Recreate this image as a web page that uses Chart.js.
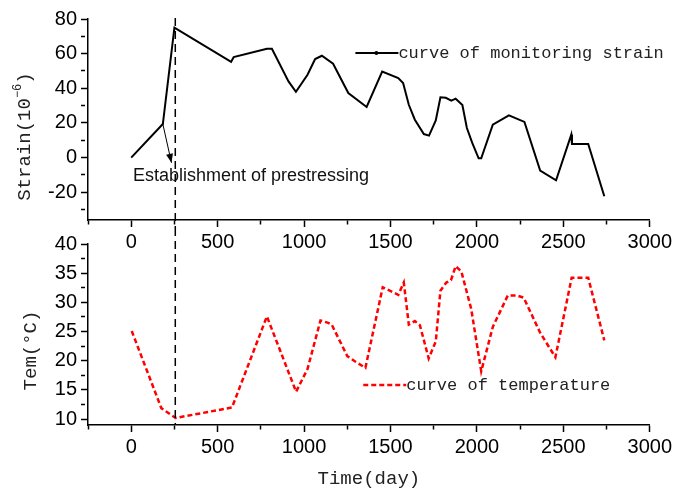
<!DOCTYPE html>
<html>
<head>
<meta charset="utf-8">
<script src="https://cdn.jsdelivr.net/npm/chart.js@4.4.0/dist/chart.umd.min.js"></script>
<style>
  html, body { margin: 0; padding: 0; background: #fff; }
  #wrap { position: relative; width: 675px; height: 495px; overflow: hidden; }
  #wrap canvas { position: absolute; left: 0; }
  #strainCanvas { top: 0; }
  #tempCanvas { top: 228px; }
</style>
</head>
<body>
<div id="wrap">
  <canvas id="tempCanvas" width="675" height="267"></canvas>
  <canvas id="strainCanvas" width="675" height="260"></canvas>
</div>
<script>
// monitoring strain (10^-6) vs time (day)
const strainDays = [0, 183, 250, 578, 593, 785, 814, 910, 953, 1020, 1064, 1103, 1168, 1256, 1362,
  1452, 1545, 1573, 1606, 1641, 1693, 1723, 1762, 1789, 1820, 1852, 1877, 1916, 1942, 1973,
  2010, 2025, 2092, 2185, 2275, 2366, 2458, 2546, 2550, 2644, 2737];
const strainValues = [0, 19.4, 75, 55.3, 58, 62.8, 62.8, 44, 38, 47.8, 56.9, 58.8, 54.2, 37.3, 29.2,
  49.7, 45.9, 43, 30.5, 21.9, 13.6, 12.7, 21.5, 34.8, 34.5, 32.9, 34, 30.4, 17.1, 8.5,
  -0.4, -0.4, 19, 24.4, 20.6, -7.5, -13.1, 13.3, 7.8, 7.9, -22.3];

// temperature (°C) vs time (day)
const tempDays = [3, 174, 257, 583, 785, 954, 1020, 1095, 1140, 1160, 1250, 1300, 1355, 1455,
  1545, 1577, 1606, 1641, 1670, 1721, 1762, 1789, 1823, 1850, 1877, 1910, 1967, 2025, 2092,
  2179, 2230, 2271, 2366, 2454, 2548, 2644, 2737];
const tempValues = [25.1, 11.9, 10.2, 12.0, 27.6, 14.7, 18.6, 26.9, 26.5, 26.2, 20.8, 19.8, 18.8, 32.6,
  31.3, 33.4, 26.2, 26.8, 26.1, 20.4, 23.3, 32.0, 33.4, 33.8, 36.2, 35.3, 28.9, 18.2, 25.8,
  31.2, 31.2, 30.8, 24.8, 20.6, 34.2, 34.2, 23.5];

// tick values (labels only on the major ones)
const dayTicks = [-250, 0, 250, 500, 750, 1000, 1250, 1500, 1750, 2000, 2250, 2500, 2750, 3000];
const strainTicks = [-30, -20, -10, 0, 10, 20, 30, 40, 50, 60, 70, 80];
const tempTicks = [10, 12.5, 15, 17.5, 20, 22.5, 25, 27.5, 30, 32.5, 35, 37.5, 40];

const prestressDay = 255;

const SANS = '"Liberation Sans", Arial, sans-serif';
const MONO = '"Liberation Mono", "Courier New", monospace';

const isMajorDay = v => v >= 0 && v % 500 === 0;

// dashed vertical line marking the establishment of prestressing
const prestressLine = {
  id: 'prestressLine',
  afterDatasetsDraw(chart, args, opts) {
    const {ctx, chartArea: a} = chart;
    const x = chart.scales.x.getPixelForValue(prestressDay);
    ctx.save();
    ctx.strokeStyle = '#000';
    ctx.lineWidth = 1.5;
    ctx.setLineDash([8, 5]);
    ctx.beginPath();
    ctx.moveTo(x, opts.fromCanvasTop ? 0 : a.top - 1);
    ctx.lineTo(x, a.bottom + (opts.extendDown || 0));
    ctx.stroke();
    ctx.restore();
  }
};

// legend drawn inside the plot area
const insideLegend = {
  id: 'insideLegend',
  afterDatasetsDraw(chart, args, opts) {
    const {ctx, chartArea: a} = chart;
    const x0 = a.left + opts.fx * (a.right - a.left);
    const y0 = a.top + opts.fy * (a.bottom - a.top);
    ctx.save();
    ctx.strokeStyle = opts.color;
    ctx.lineWidth = opts.width;
    ctx.setLineDash(opts.dash || []);
    ctx.beginPath();
    ctx.moveTo(x0, y0);
    ctx.lineTo(x0 + 43, y0);
    ctx.stroke();
    ctx.setLineDash([]);
    if (opts.marker) {
      ctx.fillStyle = opts.color;
      ctx.beginPath();
      ctx.arc(x0 + 21, y0, 2, 0, Math.PI * 2);
      ctx.fill();
    }
    ctx.fillStyle = '#222';
    ctx.font = '17px ' + MONO;
    ctx.textBaseline = 'middle';
    ctx.fillText(opts.text, x0 + 43, y0 + 1);
    ctx.restore();
  }
};

// rotated y-axis title, with optional superscript part
const sideTitle = {
  id: 'sideTitle',
  afterDraw(chart, args, opts) {
    const {ctx, chartArea: a} = chart;
    const cy = (a.top + a.bottom) / 2 + opts.shift;
    ctx.save();
    ctx.translate(opts.x, cy);
    ctx.rotate(-Math.PI / 2);
    ctx.fillStyle = '#222';
    ctx.textBaseline = 'middle';
    let total = 0;
    opts.parts.forEach(p => {
      ctx.font = p.size + 'px ' + MONO;
      total += ctx.measureText(p.text).width;
    });
    let x = -total / 2;
    opts.parts.forEach(p => {
      ctx.font = p.size + 'px ' + MONO;
      ctx.fillText(p.text, x, -(p.rise || 0));
      x += ctx.measureText(p.text).width;
    });
    ctx.restore();
  }
};

// arrow + text "Establishment of prestressing"
const prestressNote = {
  id: 'prestressNote',
  afterDatasetsDraw(chart) {
    const {ctx, chartArea: a, scales} = chart;
    const x1 = scales.x.getPixelForValue(183), y1 = scales.y.getPixelForValue(19.4);
    const x2 = scales.x.getPixelForValue(233), y2 = scales.y.getPixelForValue(-3);
    const ang = Math.atan2(y2 - y1, x2 - x1);
    ctx.save();
    ctx.strokeStyle = '#000';
    ctx.fillStyle = '#000';
    ctx.lineWidth = 1;
    ctx.beginPath();
    ctx.moveTo(x1, y1);
    ctx.lineTo(x2, y2);
    ctx.stroke();
    ctx.beginPath();
    ctx.moveTo(x2, y2);
    ctx.lineTo(x2 - 9 * Math.cos(ang) + 3.5 * Math.sin(ang), y2 - 9 * Math.sin(ang) - 3.5 * Math.cos(ang));
    ctx.lineTo(x2 - 9 * Math.cos(ang) - 3.5 * Math.sin(ang), y2 - 9 * Math.sin(ang) + 3.5 * Math.cos(ang));
    ctx.closePath();
    ctx.fill();
    ctx.font = '18px ' + SANS;
    ctx.fillStyle = '#111';
    ctx.textBaseline = 'alphabetic';
    ctx.fillText('Establishment of prestressing', a.left + 45, a.top + 162);
    ctx.restore();
  }
};

function dayAxis(boxHeight, labelPad, title) {
  return {
    type: 'linear',
    min: -250,
    max: 3000,
    afterBuildTicks: s => { s.ticks = dayTicks.map(v => ({value: v})); },
    afterFit: s => { s.height = boxHeight; },
    grid: {
      drawOnChartArea: false,
      tickLength: 7,
      tickColor: '#000',
      tickWidth: 1.5,
      tickBorderDash: c => isMajorDay(c.tick.value) ? [] : [4, 20]
    },
    border: { display: true, color: '#000', width: 1.5 },
    ticks: {
      autoSkip: false,
      maxRotation: 0,
      padding: labelPad,
      color: '#000',
      font: { family: SANS, size: 20 },
      callback: v => isMajorDay(v) ? String(v) : ''
    },
    title: title
  };
}

function valueAxis(min, max, tickList, isMajor) {
  return {
    min: min,
    max: max,
    afterBuildTicks: s => { s.ticks = tickList.map(v => ({value: v})); },
    afterFit: s => { s.width = 88; },
    grid: {
      drawOnChartArea: false,
      tickLength: 7,
      tickColor: '#000',
      tickWidth: 1.5,
      tickBorderDash: c => isMajor(c.tick.value) ? [] : [4, 20]
    },
    border: { display: true, color: '#000', width: 1.5 },
    ticks: {
      autoSkip: false,
      padding: 4,
      color: '#000',
      font: { family: SANS, size: 20 },
      callback: v => isMajor(v) ? String(v) : ''
    }
  };
}

new Chart(document.getElementById('strainCanvas'), {
  type: 'line',
  data: {
    datasets: [{
      label: 'curve of monitoring strain',
      data: strainDays.map((d, i) => ({x: d, y: strainValues[i]})),
      borderColor: '#000',
      borderWidth: 2,
      pointRadius: 0,
      tension: 0
    }]
  },
  options: {
    responsive: false,
    animation: false,
    layout: { padding: { left: 0, right: 24, top: 19, bottom: 0 } },
    scales: {
      x: dayAxis(40, 3, { display: false }),
      y: valueAxis(-36, 80, strainTicks, v => v % 20 === 0)
    },
    plugins: {
      legend: { display: false },
      tooltip: { enabled: false },
      prestressLine: { fromCanvasTop: false, extendDown: 8 },
      insideLegend: { fx: 0.476, fy: 0.169, color: '#000', width: 2, marker: true,
        text: 'curve of monitoring strain' },
      sideTitle: { x: 25, shift: 17,
        parts: [{text: 'Strain(10', size: 19}, {text: '−6', size: 12, rise: 7}, {text: ')', size: 19}] }
    }
  },
  plugins: [prestressLine, insideLegend, sideTitle, prestressNote]
});

new Chart(document.getElementById('tempCanvas'), {
  type: 'line',
  data: {
    datasets: [{
      label: 'curve of temperature',
      data: tempDays.map((d, i) => ({x: d, y: tempValues[i]})),
      borderColor: '#ff0000',
      borderWidth: 2.5,
      borderDash: [5, 3],
      pointRadius: 0,
      tension: 0
    }]
  },
  options: {
    responsive: false,
    animation: false,
    layout: { padding: { left: 0, right: 24, top: 13, bottom: 0 } },
    scales: {
      x: dayAxis(70, 3, {
        display: true,
        text: 'Time(day)',
        color: '#222',
        font: { family: MONO, size: 19 },
        padding: { top: 0, bottom: 5 }
      }),
      y: valueAxis(9, 40, tempTicks, v => v % 5 === 0)
    },
    plugins: {
      legend: { display: false },
      tooltip: { enabled: false },
      prestressLine: { fromCanvasTop: true, extendDown: 0 },
      insideLegend: { fx: 0.49, fy: 0.779, color: '#ff0000', width: 2.5, dash: [5, 3],
        text: 'curve of temperature' },
      sideTitle: { x: 31, shift: 16, parts: [{text: 'Tem(°C)', size: 19}] }
    }
  },
  plugins: [prestressLine, insideLegend, sideTitle]
});
</script>
</body>
</html>
